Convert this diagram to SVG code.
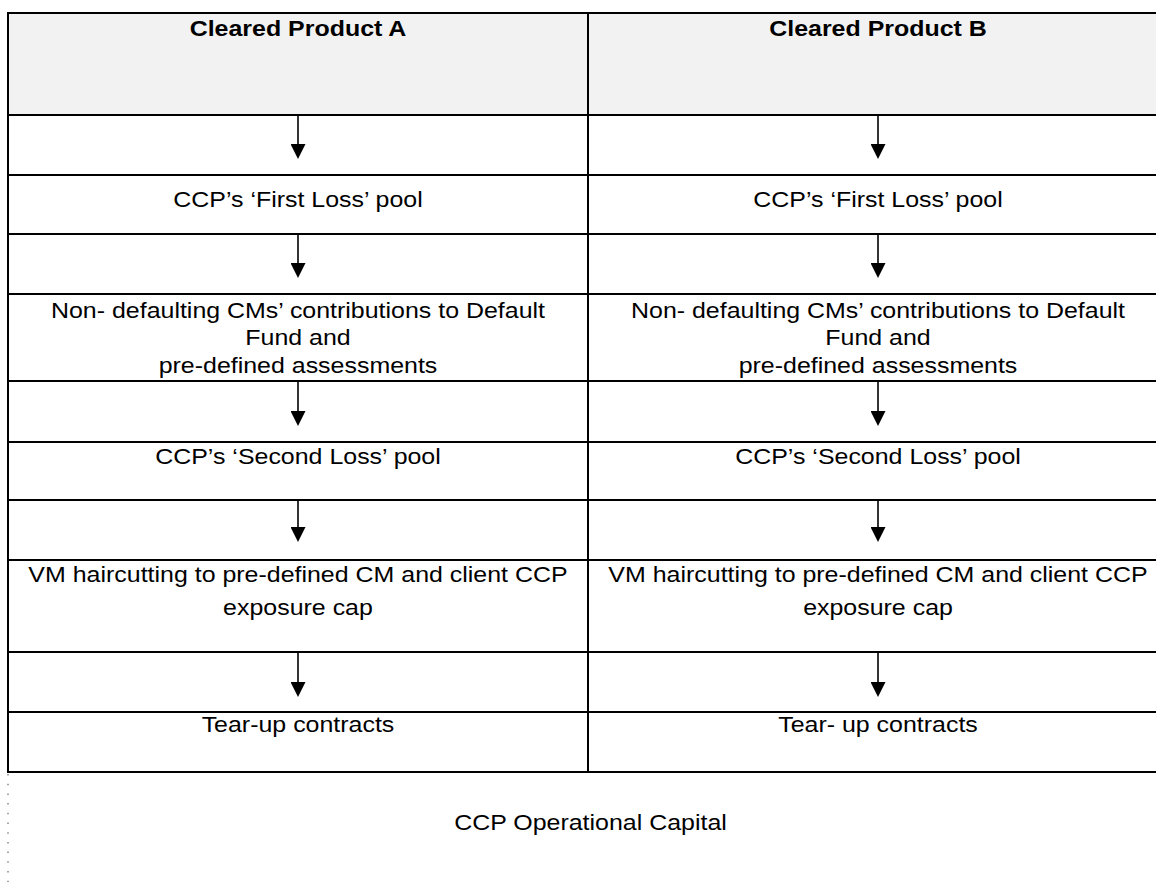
<svg xmlns="http://www.w3.org/2000/svg" width="1156" height="882" viewBox="0 0 1156 882">
<style>
.t{font-family:"Liberation Sans",Arial,sans-serif;font-size:23px;fill:#000;text-anchor:middle}
.b{font-weight:bold}
.grid{stroke:#000;stroke-width:2;fill:none}
.arr{stroke:#000;stroke-width:1.6;fill:none;marker-end:url(#ah)}
</style>
<defs>
<marker id="ah" viewBox="0 0 15 15" refX="5" refY="7.5" markerWidth="15" markerHeight="15" markerUnits="userSpaceOnUse" orient="auto">
<path d="M0,0 L15,7.5 L0,15 z" fill="#000"/>
</marker>
</defs>
<rect x="0" y="0" width="1156" height="882" fill="#fff"/>
<g id="header">
<rect x="8" y="13" width="1160" height="102" fill="#f2f2f2"/>
</g>
<g id="grid" class="grid">
<line x1="7" y1="13" x2="1168" y2="13"/>
<line x1="8" y1="13" x2="8" y2="773"/>
<line x1="588" y1="13" x2="588" y2="772"/>
<line x1="8" y1="115" x2="1168" y2="115"/>
<line x1="8" y1="175" x2="1168" y2="175"/>
<line x1="8" y1="234" x2="1168" y2="234"/>
<line x1="8" y1="294" x2="1168" y2="294"/>
<line x1="8" y1="381" x2="1168" y2="381"/>
<line x1="8" y1="442" x2="1168" y2="442"/>
<line x1="8" y1="500" x2="1168" y2="500"/>
<line x1="8" y1="560" x2="1168" y2="560"/>
<line x1="8" y1="652" x2="1168" y2="652"/>
<line x1="8" y1="712" x2="1168" y2="712"/>
<line x1="7" y1="772" x2="1168" y2="772"/>
</g>
<g id="dotted-border">
<line x1="8" y1="774" x2="8" y2="882" stroke="#888" stroke-width="1.5" stroke-dasharray="1.5 8.2"/>
</g>
<g id="node-a-header"><text class="t b" x="274.65" y="36.5" transform="scale(1.085 1)">Cleared Product A</text></g>
<g id="node-b-header"><text class="t b" x="809.22" y="36.5" transform="scale(1.085 1)">Cleared Product B</text></g>
<g id="node-a-first"><text class="t" x="274.65" y="207" transform="scale(1.085 1)">CCP’s ‘First Loss’ pool</text></g>
<g id="node-b-first"><text class="t" x="809.22" y="207" transform="scale(1.085 1)">CCP’s ‘First Loss’ pool</text></g>
<g id="node-a-nondef"><text class="t" transform="scale(1.085 1)"><tspan x="274.65" y="318">Non- defaulting CMs’ contributions to Default</tspan><tspan x="274.65" y="345.5">Fund and</tspan><tspan x="274.65" y="373">pre-defined assessments</tspan></text></g>
<g id="node-b-nondef"><text class="t" transform="scale(1.085 1)"><tspan x="809.22" y="318">Non- defaulting CMs’ contributions to Default</tspan><tspan x="809.22" y="345.5">Fund and</tspan><tspan x="809.22" y="373">pre-defined assessments</tspan></text></g>
<g id="node-a-second"><text class="t" x="274.65" y="464" transform="scale(1.085 1)">CCP’s ‘Second Loss’ pool</text></g>
<g id="node-b-second"><text class="t" x="809.22" y="464" transform="scale(1.085 1)">CCP’s ‘Second Loss’ pool</text></g>
<g id="node-a-vm"><text class="t" transform="scale(1.085 1)"><tspan x="274.65" y="582">VM haircutting to pre-defined CM and client CCP</tspan><tspan x="274.65" y="615">exposure cap</tspan></text></g>
<g id="node-b-vm"><text class="t" transform="scale(1.085 1)"><tspan x="809.22" y="582">VM haircutting to pre-defined CM and client CCP</tspan><tspan x="809.22" y="615">exposure cap</tspan></text></g>
<g id="node-a-tearup"><text class="t" x="274.65" y="732" transform="scale(1.085 1)">Tear-up contracts</text></g>
<g id="node-b-tearup"><text class="t" x="809.22" y="732" transform="scale(1.085 1)">Tear- up contracts</text></g>
<g id="node-opcap"><text class="t" x="544.24" y="830" transform="scale(1.085 1)">CCP Operational Capital</text></g>
<g id="connectors">
<line class="arr" x1="298" y1="116" x2="298" y2="149"/>
<line class="arr" x1="298" y1="235" x2="298" y2="268"/>
<line class="arr" x1="298" y1="382" x2="298" y2="416"/>
<line class="arr" x1="298" y1="501" x2="298" y2="532"/>
<line class="arr" x1="298" y1="653" x2="298" y2="687"/>
<line class="arr" x1="878" y1="116" x2="878" y2="149"/>
<line class="arr" x1="878" y1="235" x2="878" y2="268"/>
<line class="arr" x1="878" y1="382" x2="878" y2="416"/>
<line class="arr" x1="878" y1="501" x2="878" y2="532"/>
<line class="arr" x1="878" y1="653" x2="878" y2="687"/>
</g>
</svg>
